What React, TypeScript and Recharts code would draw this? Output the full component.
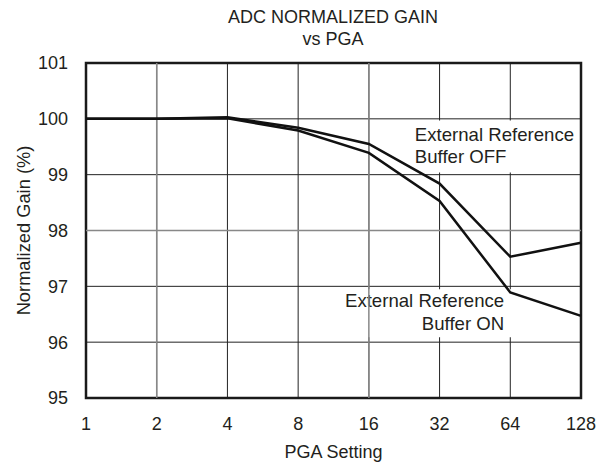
import React from 'react';
import {
  LineChart,
  Line,
  XAxis,
  YAxis,
  CartesianGrid,
  ReferenceArea,
  ReferenceLine,
  Customized,
} from 'recharts';

const pgaLabels = ['1', '2', '4', '8', '16', '32', '64', '128'];
const gainBufferOff = [100, 100, 100.03, 99.84, 99.55, 98.84, 97.53, 97.78];
const gainBufferOn = [100, 100, 100.01, 99.79, 99.39, 98.53, 96.89, 96.47];
const yTicks = [95, 96, 97, 98, 99, 100, 101];

const data = pgaLabels.map((label, i) => ({
  idx: i,
  label,
  off: gainBufferOff[i],
  on: gainBufferOn[i],
}));
const xTicks = pgaLabels.map((_, i) => i);

const FONT = '"Liberation Sans", Arial, Helvetica, sans-serif';
const TEXT = '#231f20';

const Title = () => (
  <g>
    <text x={333} y={23} textAnchor="middle" fontFamily={FONT} fontSize={18} fill={TEXT}>
      ADC NORMALIZED GAIN
    </text>
    <text x={333} y={45} textAnchor="middle" fontFamily={FONT} fontSize={18} fill={TEXT}>
      vs PGA
    </text>
  </g>
);

const offLabel = (props: any) => {
  const vb = props.viewBox || {};
  return (
    <g>
      <text x={vb.x + 5} y={vb.y + 20.7} fontFamily={FONT} fontSize={18.6} fill={TEXT}>
        External Reference
      </text>
      <text x={vb.x + 5} y={vb.y + 42.3} fontFamily={FONT} fontSize={18.6} fill={TEXT}>
        Buffer OFF
      </text>
    </g>
  );
};

const onLabel = (props: any) => {
  const vb = props.viewBox || {};
  const rx = vb.x + vb.width - 16;
  return (
    <g>
      <text x={rx} y={vb.y + 17.7} textAnchor="end" fontFamily={FONT} fontSize={18.6} fill={TEXT}>
        External Reference
      </text>
      <text x={rx} y={vb.y + 40.7} textAnchor="end" fontFamily={FONT} fontSize={18.6} fill={TEXT}>
        Buffer ON
      </text>
    </g>
  );
};

const yLabel = (props: any) => {
  const vb = props.viewBox || {};
  const cx = 29.5;
  const cy = vb.y + vb.height / 2;
  return (
    <text
      x={cx}
      y={cy}
      transform={`rotate(-90, ${cx}, ${cy})`}
      textAnchor="middle"
      fontFamily={FONT}
      fontSize={18.3}
      fill={TEXT}
    >
      Normalized Gain (%)
    </text>
  );
};

export default function App() {
  return (
    <div style={{ position: 'absolute', left: 0, top: 0, width: 610, height: 468, background: '#fff' }}>
      <LineChart
        width={610}
        height={468}
        data={data}
        margin={{ top: 63, right: 29, bottom: 0, left: 0 }}
      >
        <CartesianGrid stroke="#222" strokeWidth={1} />
        <XAxis
          dataKey="idx"
          type="number"
          domain={[0, 7]}
          ticks={xTicks}
          tickFormatter={(v: number) => pgaLabels[v]}
          height={70}
          axisLine={false}
          tickLine={false}
          tickSize={0}
          tickMargin={19}
          interval={0}
          tick={{ fontFamily: FONT, fontSize: 18, fill: TEXT }}
          label={{
            value: 'PGA Setting',
            position: 'insideBottom',
            offset: 10,
            fontFamily: FONT,
            fontSize: 18,
            fill: TEXT,
          }}
        />
        <YAxis
          type="number"
          domain={[95, 101]}
          ticks={yTicks}
          width={86}
          axisLine={false}
          tickLine={false}
          tickSize={0}
          tickMargin={18}
          interval={0}
          tick={{ fontFamily: FONT, fontSize: 18, fill: TEXT }}
          label={{ content: yLabel }}
        />
        <ReferenceLine x={1} stroke="#888" strokeWidth={1.5} />
        <ReferenceLine x={4} stroke="#888" strokeWidth={1.5} />
        <ReferenceLine y={98} stroke="#888" strokeWidth={1.5} />
        <ReferenceArea
          x1={4.58}
          x2={6.97}
          y1={99.04}
          y2={99.97}
          fill="#fff"
          fillOpacity={1}
          stroke="none"
          label={offLabel}
        />
        <ReferenceArea
          x1={3.59}
          x2={6.14}
          y1={96.09}
          y2={96.95}
          fill="#fff"
          fillOpacity={1}
          stroke="none"
          label={onLabel}
        />
        <Line
          type="linear"
          dataKey="off"
          stroke="#111"
          strokeWidth={2.5}
          dot={false}
          isAnimationActive={false}
        />
        <Line
          type="linear"
          dataKey="on"
          stroke="#111"
          strokeWidth={2.5}
          dot={false}
          isAnimationActive={false}
        />
        <ReferenceArea
          x1={0}
          x2={7}
          y1={95}
          y2={101}
          fill="none"
          stroke="#1a1a1a"
          strokeWidth={2.5}
        />
        <Customized component={Title} />
      </LineChart>
    </div>
  );
}
